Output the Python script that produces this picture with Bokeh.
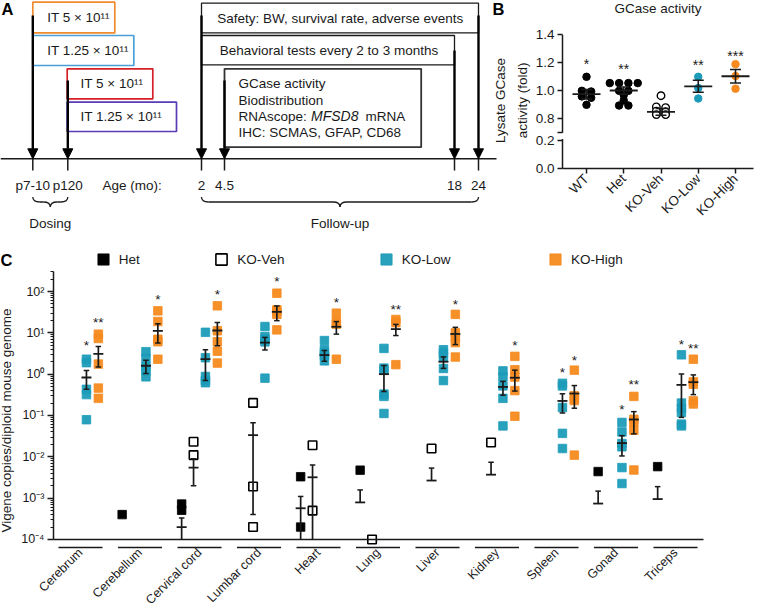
import math
import numpy as np
from bokeh.plotting import figure
from bokeh.models import (Range1d, FixedTicker, Legend, LegendItem, Arrow, NormalHead,
                          LinearAxis, LogAxis, LogScale)
from bokeh.core.properties import value
from bokeh.embed import file_html
from bokeh.resources import INLINE

NAN = float("nan")

# ======================= DATA =======================
# ---- Panel A: study design ----
dose_labels = ["IT 5 × 10¹¹", "IT 1.25 × 10¹¹", "IT 5 × 10¹¹", "IT 1.25 × 10¹¹"]
age_labels = ["p7-10", "p120", "2", "4.5", "18", "24"]
age_title = "Age (mo):"
followup_labels = ["Safety: BW, survival rate, adverse events",
                   "Behavioral tests every 2 to 3 months"]
endpoint_labels = ["GCase activity", "Biodistribution", "RNAscope:", "IHC: SCMAS, GFAP, CD68"]
endpoint_italic = "MFSD8"
endpoint_tail = "mRNA"
brace_labels = ["Dosing", "Follow-up"]

# ---- Panel B: GCase activity ----
b_groups = ["WT", "Het", "KO-Veh", "KO-Low", "KO-High"]
b_wt = [1.10, 1.00, 0.995, 0.96, 0.95, 0.90]
b_het = [1.055, 1.055, 1.055, 1.055, 1.00, 1.00, 0.97, 0.93, 0.895, 0.895]
b_veh = [0.965, 0.885, 0.88, 0.855, 0.85, 0.83, 0.83]
b_low = [1.10, 1.02, 0.945]
b_high = [1.19, 1.105, 1.015]
b_mean = [0.976, 1.002, 0.85, 1.032, 1.104]
b_sem = [0.034, 0.026, 0.024, 0.043, 0.049]
b_sig = ["*", "**", "", "**", "***"]
b_sig_y = [1.222, 1.182, NAN, 1.21, 1.277]

# ---- Panel C: biodistribution ----
tissues = ["Cerebrum", "Cerebellum", "Cervical cord", "Lumbar cord", "Heart", "Lung",
           "Liver", "Kidney", "Spleen", "Gonad", "Triceps"]
c_groups = ["Het", "KO-Veh", "KO-Low", "KO-High"]
het_vals = [[], [4.0e-4], [7.2e-4, 5.1e-4], [], [3.3e-3, 2.0e-4], [4.75e-3], [], [], [],
            [4.4e-3], [5.8e-3]]
het_mean = [NAN, NAN, 2.0e-4, NAN, 5.7e-4, 7.9e-4, NAN, NAN, NAN, 7.4e-4, 9.5e-4]
het_sem = [NAN, NAN, 1.3e-4, NAN, 5.3e-4, 7.9e-4, NAN, NAN, NAN, 7.4e-4, 9.5e-4]
veh_vals = [[], [], [0.0231, 0.011], [0.202, 1.91e-3, 2.0e-4], [0.0191, 5.0e-4], [1.0e-4],
            [0.0159], [0.0222], [], [], []]
veh_mean = [NAN, NAN, 5.5e-3, 0.0334, 3.2e-3, NAN, 2.67e-3, 3.7e-3, NAN, NAN, NAN]
veh_sem = [NAN, NAN, 3.5e-3, 0.033, 3.15e-3, NAN, 2.67e-3, 3.7e-3, NAN, NAN, NAN]
low_vals = [[2.3, 1.9, 0.43, 0.32, 0.079],
            [3.5, 2.4, 1.5, 1.2, 0.86],
            [10.3, 2.5, 0.88, 0.7, 0.62],
            [14.2, 8.1, 7.0, 6.05, 0.8],
            [6.5, 3.9, 3.3, 2.8, 2.1],
            [4.2, 1.4, 1.25, 0.33, 0.29, 0.112],
            [3.9, 3.16, 2.6, 1.37, 0.70],
            [1.2, 0.86, 0.52, 0.26, 0.056],
            [0.6, 0.52, 0.156, 0.037, 0.0159],
            [0.068, 0.040, 0.021, 0.0175, 5.5e-3, 2.26e-3],
            [2.94, 0.2, 0.15, 0.118, 0.062, 0.056]]
low_mean = [0.83, 1.6, 2.3, 5.8, 2.9, 1.0, 2.0, 0.49, 0.225, 0.0215, 0.55]
low_sem = [0.40, 0.56, 1.6, 1.95, 0.85, 0.62, 0.62, 0.18, 0.11, 0.011, 0.46]
high_vals = [[9.3, 7.3, 1.75, 0.46, 0.26],
             [34.0, 18.8, 7.0, 6.1, 2.3],
             [45.0, 11.2, 6.1, 3.6, 1.85],
             [91.0, 36.0, 33.0, 28.0, 11.8],
             [29.9, 18.5, 16.2, 2.3],
             [21.0, 17.6, 1.7],
             [28.0, 10.0, 7.7, 5.8, 2.6],
             [2.7, 1.28, 0.85, 0.40, 0.096],
             [1.25, 0.30, 0.25, 0.23, 0.011],
             [0.29, 0.081, 0.070, 0.044, 4.8e-3],
             [2.3, 0.65, 0.57, 0.226, 0.19]]
high_mean = [3.1, 11.2, 11.4, 32.2, 14.0, 12.3, 9.4, 0.82, 0.34, 0.08, 0.64]
high_sem = [1.6, 5.5, 6.5, 12.5, 4.7, 3.7, 4.2, 0.43, 0.19, 0.044, 0.32]
sig_tissue = [0, 0, 1, 2, 3, 4, 5, 6, 7, 8, 8, 9, 9, 10, 10]
sig_group = ["KO-Low", "KO-High", "KO-High", "KO-High", "KO-High", "KO-High", "KO-High",
             "KO-High", "KO-High", "KO-Low", "KO-High", "KO-Low", "KO-High", "KO-Low", "KO-High"]
sig_text = ["*", "**", "*", "*", "*", "*", "**", "*", "*", "*", "*", "*", "**", "*", "**"]
sig_value = [6.2, 22.2, 78.5, 107.0, 219.0, 66.0, 46.8, 59.0, 6.2, 1.40, 2.62, 0.171, 0.716,
             6.65, 5.32]

# ======================= STYLE / LAYOUT =======================
FONT = "Liberation Sans"
INK = "#1a1a1a"
TEAL = "#1c9cb9"
ORANGE = "#f68a1e"
dose_colors = ["#f08a2c", "#4a9fd8", "#d62027", "#5a3bb5"]
FS = "13.5px"

W, H = 761, 609
B_CAT0, B_DX, B_ZERO, B_K = 586.0, 37.25, 168.0, 140.0
C_CAT0, C_DX, C_Y2, C_DEC = 80.0, 59.5, 291.0, 41.333
B_X0, B_X1 = (562 - B_CAT0) / B_DX, (753 - B_CAT0) / B_DX
C_X0, C_X1 = (53 - C_CAT0) / C_DX, (703 - C_CAT0) / C_DX
B_SHIFT = 0.445
AX_MIN, AX_TOP = 1e-4, 310.0

p = figure(width=W, height=H, x_range=Range1d(0, W), y_range=Range1d(H, 0),
           x_axis_type=None, y_axis_type=None, output_backend="svg",
           toolbar_location=None, min_border=0)
p.outline_line_color = None
p.extra_x_ranges = {"bx": Range1d(-B_CAT0 / B_DX, (W - B_CAT0) / B_DX),
                    "cx": Range1d(-C_CAT0 / C_DX, (W - C_CAT0) / C_DX)}
p.extra_y_ranges = {"by": Range1d((B_ZERO - H) / B_K, B_ZERO / B_K),
                    "cy": Range1d(10 ** (2 - (H - C_Y2) / C_DEC), 10 ** (2 + C_Y2 / C_DEC))}
p.extra_y_scales = {"cy": LogScale()}
B = dict(x_range_name="bx", y_range_name="by")
C = dict(x_range_name="cx", y_range_name="cy")


def txt(x, y, text, size=FS, align="left", style="normal", color=INK, **kw):
    return p.text(x=x, y=y, text=text, text_font=value(FONT), text_font_size=size,
                  text_align=align, text_baseline="middle", text_font_style=style,
                  text_color=color, **kw)


def style_axis(ax, size=FS):
    ax.major_label_text_font = FONT
    ax.major_label_text_font_size = size
    ax.major_label_text_color = INK
    ax.axis_line_color = INK
    ax.axis_line_width = 1.5
    ax.major_tick_line_color = INK
    ax.major_tick_line_width = 1.5
    ax.major_tick_in = 0
    ax.minor_tick_line_color = None


# ======================= PANEL A =======================
A_time_y = 158.3
A_age_x = [32.3, 67.3, 201, 224, 454, 478]
A_arrow_top = [15, 80, 15, 80, 50, 15]
A_dose_box = [(32.3, 114.3, 1.7, 32.3), (32.3, 133.3, 35, 65),
              (66.7, 152.3, 68.3, 98.3), (66.7, 176, 101.7, 131)]
A_dose_tx = [46.7, 46.7, 80, 80]
A_fu_box = [(201, 478, 2.7, 32.3), (201, 454, 35, 64.3)]
A_fu_tx = [216.7, 219.3]
A_ep_box = (224, 420.7, 68.3, 146.7)
A_ep_y = [83.3, 99.7, 115.7, 131.7]

p.quad(left=[b[0] for b in A_dose_box], right=[b[1] for b in A_dose_box],
       top=[b[2] for b in A_dose_box], bottom=[b[3] for b in A_dose_box],
       fill_color=None, line_color=dose_colors, line_width=1.7)
txt(A_dose_tx, [(b[2] + b[3]) / 2 for b in A_dose_box], dose_labels)
p.quad(left=[b[0] for b in A_fu_box], right=[b[1] for b in A_fu_box],
       top=[b[2] for b in A_fu_box], bottom=[b[3] for b in A_fu_box],
       fill_color=None, line_color=INK, line_width=1.3)
txt(A_fu_tx, [(b[2] + b[3]) / 2 for b in A_fu_box], followup_labels)
p.quad(left=[A_ep_box[0]], right=[A_ep_box[1]], top=[A_ep_box[2]], bottom=[A_ep_box[3]],
       fill_color=None, line_color="#333333", line_width=1.8)
txt([238] * 4, A_ep_y, endpoint_labels)
txt([310.5], [A_ep_y[2]], [endpoint_italic], style="italic", size="14px")
txt([365], [A_ep_y[2]], [endpoint_tail])

for xa, ya in zip(A_age_x, A_arrow_top):
    p.add_layout(Arrow(x_start=xa, y_start=ya, x_end=xa, y_end=A_time_y,
                       line_width=2.4, line_color="black",
                       end=NormalHead(size=10, fill_color="black", line_color="black",
                                      line_width=1)))

p.segment(x0=[0], y0=[A_time_y], x1=[496], y1=[A_time_y], line_color=INK, line_width=1.6)
p.segment(x0=A_age_x, y0=[A_time_y] * 6, x1=A_age_x, y1=[170] * 6,
          line_color=INK, line_width=1.5)
txt(A_age_x, [185] * 6, age_labels, align="center")
txt([102], [185], [age_title])


def brace(x0, x1, ytop, depth):
    xm = (x0 + x1) / 2
    ym = ytop + depth / 2
    yt = ytop + depth
    r = min(7, (x1 - x0) / 4)
    p.quadratic(x0=[x0, xm - r, xm, x1 - r], y0=[ytop, ym, yt, ym],
                x1=[x0 + r, xm, xm + r, x1], y1=[ym, yt, ym, ytop],
                cx=[x0, xm, xm, x1], cy=[ym, ym, ym, ym], line_color=INK, line_width=1.3)
    p.segment(x0=[x0 + r, xm + r], y0=[ym, ym], x1=[xm - r, x1 - r], y1=[ym, ym],
              line_color=INK, line_width=1.3)
    return xm


m1 = brace(A_age_x[0], A_age_x[1], 196.5, 10)
m2 = brace(A_age_x[2], A_age_x[5], 196.5, 10)
txt([m1, m2], [223, 223], brace_labels, align="center")
txt([1, 492, 0], [8, 8, 259], ["A", "B", "C"], size="16.5px", style="bold", color="black")


# ======================= PANEL B =======================
def disp(v):
    return v if v < 0.5 else v - B_SHIFT


b_tick_vals = [0.0, 0.2, 0.7, 0.8, 1.0, 1.2, 1.4]
b_tick_lbls = ["0.0", "0.2", "", "0.8", "1.0", "1.2", "1.4"]
b_ticks = [round(disp(v), 4) for v in b_tick_vals]

bya = LinearAxis(fixed_location=B_X0, ticker=FixedTicker(ticks=b_ticks),
                 bounds=(0, disp(1.4)), **B)
bya.major_label_overrides = dict(zip(b_ticks, b_tick_lbls))
style_axis(bya)
bya.axis_line_color = None
bya.major_tick_out = 5
bya.major_label_standoff = 3
p.add_layout(bya, "left")

bxa = LinearAxis(fixed_location=0.0, ticker=FixedTicker(ticks=list(range(len(b_groups)))),
                 bounds=(B_X0, B_X1), **B)
bxa.major_label_overrides = {i: g for i, g in enumerate(b_groups)}
bxa.major_label_orientation = math.pi / 4
style_axis(bxa)
bxa.major_tick_out = 5
bxa.major_label_standoff = 3
p.add_layout(bxa, "below")

p.segment(x0=[B_X0] * 2, x1=[B_X0] * 2, y0=[0, disp(0.7)], y1=[0.21, disp(1.4)],
          line_color=INK, line_width=1.5, **B)
txt([(500 - B_CAT0) / B_DX, (522 - B_CAT0) / B_DX], [0.486, 0.486],
    ["Lysate GCase", "activity (fold)"], align="center", angle=math.pi / 2, **B)
txt([(B_X0 + B_X1) / 2], [(B_ZERO - 8) / B_K], ["GCase activity"], align="center", **B)


def dodge(vals, tol=0.025, step=0.25):
    vals = np.asarray(vals, dtype=float)
    order = np.argsort(-vals, kind="stable")
    clusters = []
    for idx in order:
        if clusters and abs(vals[clusters[-1][0]] - vals[idx]) <= tol:
            clusters[-1].append(idx)
        else:
            clusters.append([idx])
    off = np.zeros(len(vals))
    for c in clusters:
        n = len(c)
        for k, idx in enumerate(c):
            off[idx] = (k - (n - 1) / 2) * step
    return off


b_series = [b_wt, b_het, b_veh, b_low, b_high]
b_fill = ["black", "black", "white", TEAL, ORANGE]
b_line = ["black", "black", "black", TEAL, ORANGE]
for i, vals in enumerate(b_series):
    off = dodge(vals)
    p.scatter(x=list(i + off), y=[disp(v) for v in vals], marker="circle", size=7.5,
              fill_color=b_fill[i], line_color=b_line[i], line_width=1.4 if i == 2 else 1, **B)

bx = list(range(len(b_groups)))
p.segment(x0=bx, x1=bx, y0=[disp(m - s) for m, s in zip(b_mean, b_sem)],
          y1=[disp(m + s) for m, s in zip(b_mean, b_sem)], line_color=INK, line_width=1.6, **B)
p.scatter(x=bx, y=[disp(m) for m in b_mean], marker="dash", size=28, line_color=INK,
          line_width=1.8, **B)
p.scatter(x=bx + bx, y=[disp(m + s) for m, s in zip(b_mean, b_sem)] +
          [disp(m - s) for m, s in zip(b_mean, b_sem)], marker="dash", size=11,
          line_color=INK, line_width=1.5, **B)
sx = [i for i, t in enumerate(b_sig) if t]
txt(sx, [disp(b_sig_y[i]) for i in sx], [b_sig[i] for i in sx], size="14px",
    align="center", y_offset=4, **B)

# ======================= PANEL C =======================
major = [10.0 ** k for k in range(-4, 3)]
sup = {-4: "⁻⁴", -3: "⁻³", -2: "⁻²", -1: "⁻¹", 0: "⁰", 1: "¹", 2: "²"}
minor = [m * 10.0 ** k for k in range(-4, 3) for m in range(2, 10) if m * 10.0 ** k <= AX_TOP]
cya = LogAxis(fixed_location=C_X0, ticker=FixedTicker(ticks=major, minor_ticks=minor),
              bounds=(AX_MIN, AX_TOP), **C)
cya.major_label_overrides = {v: "10" + sup[k] for v, k in zip(major, range(-4, 3))}
style_axis(cya, "12.5px")
cya.major_tick_out = 6
cya.minor_tick_out = 3
cya.minor_tick_in = 0
cya.minor_tick_line_color = INK
cya.minor_tick_line_width = 1
cya.major_label_standoff = 3
p.add_layout(cya, "left")

cxa = LinearAxis(fixed_location=AX_MIN, ticker=FixedTicker(ticks=list(range(len(tissues)))),
                 bounds=(C_X0, C_X1), **C)
cxa.major_label_overrides = {i: t for i, t in enumerate(tissues)}
cxa.major_label_orientation = math.pi / 4
style_axis(cxa, "12.5px")
cxa.major_tick_line_color = None
cxa.major_tick_out = 0
cxa.major_label_standoff = 11
p.add_layout(cxa, "below")

tx = np.arange(len(tissues))
y_ul = 10 ** (2 - (547 - C_Y2) / C_DEC)
p.segment(x0=list(tx - 0.37), x1=list(tx + 0.37), y0=[y_ul] * len(tx), y1=[y_ul] * len(tx),
          line_color=INK, line_width=1.6, **C)
txt([(6 - C_CAT0) / C_DX], [10 ** (2 - (420 - C_Y2) / C_DEC)],
    ["Vigene copies/diploid mouse genome"], align="center", angle=math.pi / 2, **C)

g_off = {"Het": -0.3, "KO-Veh": -0.1, "KO-Low": 0.1, "KO-High": 0.3}
g_vals = {"Het": het_vals, "KO-Veh": veh_vals, "KO-Low": low_vals, "KO-High": high_vals}
g_mean = {"Het": het_mean, "KO-Veh": veh_mean, "KO-Low": low_mean, "KO-High": high_mean}
g_sem = {"Het": het_sem, "KO-Veh": veh_sem, "KO-Low": low_sem, "KO-High": high_sem}
g_fill = {"Het": "black", "KO-Veh": "white", "KO-Low": TEAL, "KO-High": ORANGE}
g_line = {"Het": "black", "KO-Veh": "black", "KO-Low": TEAL, "KO-High": ORANGE}

renderers = {}
for g in c_groups:
    xs, ys = [], []
    for i, vals in enumerate(g_vals[g]):
        xs += [i + g_off[g]] * len(vals)
        ys += list(vals)
    renderers[g] = p.scatter(x=xs, y=ys, marker="square", size=8.5, fill_color=g_fill[g],
                             line_color=g_line[g], line_width=1.6 if g == "KO-Veh" else 0.8,
                             fill_alpha=1.0 if g in ("Het", "KO-Veh") else 0.95, **C)

wx0, wy0, wy1, mx, my, cx, cy = [], [], [], [], [], [], []
for g in c_groups:
    for i, (m, s) in enumerate(zip(g_mean[g], g_sem[g])):
        if not np.isfinite(m):
            continue
        x = i + g_off[g]
        up, lo = m + s, m - s
        if lo > 0:
            lo_draw = max(lo, AX_MIN)
            if lo >= AX_MIN:
                cx.append(x); cy.append(lo)
        else:
            lo_draw = m
        wx0.append(x); wy0.append(lo_draw); wy1.append(up)
        cx.append(x); cy.append(up)
        mx.append(x); my.append(m)
p.segment(x0=wx0, x1=wx0, y0=wy0, y1=wy1, line_color=INK, line_width=1.7, **C)
p.scatter(x=mx, y=my, marker="dash", size=10, line_color=INK, line_width=1.8, **C)
p.scatter(x=cx, y=cy, marker="dash", size=5.5, line_color=INK, line_width=1.5, **C)

txt([t + g_off[g] for t, g in zip(sig_tissue, sig_group)], sig_value, sig_text,
    size="13.5px", align="center", y_offset=4, **C)

leg_cx = [102.8, 221.3, 385.8, 555.0]
for g, lx in zip(c_groups, leg_cx):
    lg = Legend(items=[LegendItem(label=g, renderers=[renderers[g]])],
                location=(lx - 14, H - 259 - 14), orientation="horizontal",
                glyph_width=28, glyph_height=28, label_height=28, label_standoff=2,
                padding=0, margin=0, border_line_color=None, background_fill_alpha=0,
                label_text_font=FONT, label_text_font_size=FS, label_text_color=INK)
    p.add_layout(lg)

open("out.html", "w").write(file_html(p, INLINE))
